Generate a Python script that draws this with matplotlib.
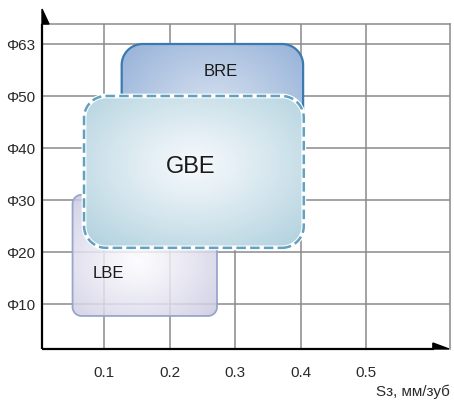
import numpy as np
import matplotlib
matplotlib.use("Agg")
import matplotlib.pyplot as plt
from matplotlib.patches import PathPatch, Polygon
from matplotlib.path import Path
from matplotlib.colors import to_rgb

plt.rcParams['font.family'] = ['Liberation Sans', 'DejaVu Sans']

# ---- data ----
feed_ticks = [0.1, 0.2, 0.3, 0.4, 0.5]
feed_labels = ["0.1", "0.2", "0.3", "0.4", "0.5"]
diam_ticks = [10, 20, 30, 40, 50, 63]
diam_labels = ["Φ10", "Φ20", "Φ30", "Φ40", "Φ50", "Φ63"]

series = ["BRE", "LBE", "GBE"]
feed_min = [0.127, 0.052, 0.0695]
feed_max = [0.404, 0.2725, 0.405]
diam_min = [30, 7.7, 20.8]
diam_max = [63, 31, 50]

# diameter -> position on the (non-linear) diameter axis
diam_scale = [0, 10, 20, 30, 40, 50, 63]
pos_scale = [0, 1, 2, 3, 4, 5, 6]
def ypos(d):
    return np.interp(d, diam_scale, pos_scale)

# ---- figure ----
fig = plt.figure(figsize=(4.54, 4.0), dpi=100)
ax = fig.add_axes([42/454, 51/400, 408/454, 325/400])
xlim = (0.1 - 62/655, 0.1 + 346/655)
ylim = (1 - 45/52, 6 + 20/52)

px_x = 655.0   # pixels per x unit
px_y = 52.0    # pixels per y unit

def rounded_rect(x0, y0, x1, y1, rpx):
    rx, ry = rpx / px_x, rpx / px_y
    verts = []
    corners = [(x1 - rx, y0 + ry, -90, 0), (x1 - rx, y1 - ry, 0, 90),
               (x0 + rx, y1 - ry, 90, 180), (x0 + rx, y0 + ry, 180, 270)]
    for cx, cy, a0, a1 in corners:
        t = np.radians(np.linspace(a0, a1, 24))
        verts += list(zip(cx + rx * np.cos(t), cy + ry * np.sin(t)))
    verts.append(verts[0])
    codes = [Path.MOVETO] + [Path.LINETO] * (len(verts) - 2) + [Path.CLOSEPOLY]
    return Path(verts, codes)

grid_c = "#8a8a8a"
for d in diam_ticks:
    ax.axhline(ypos(d), color=grid_c, lw=1.1, zorder=0.5)
for f in feed_ticks:
    ax.axvline(f, color=grid_c, lw=1.1, zorder=0.5)

for s in ("top", "right"):
    ax.spines[s].set_color(grid_c)
    ax.spines[s].set_linewidth(1.1)
for s in ("left", "bottom"):
    ax.spines[s].set_visible(False)

styles = {
    "BRE": dict(edge="#3b79b2", center="#d6e0f0", outer="#90aed6", lw=1.6, ls="-",
                rad=21, alpha=1.0, z=1, fs=12, gc=(0.5, 0.55)),
    "LBE": dict(edge="#97a6cc", center="#fdfdff", outer="#c8c6df", lw=1.3, ls="-",
                rad=9, alpha=0.85, z=2, fs=12, gc=(0.45, 0.45)),
    "GBE": dict(edge="#62a1bf", center="#f6f9fc", outer="#b0d1de", lw=1.8, ls=(0, (3.8, 1.7)),
                rad=22, alpha=1.0, z=3, fs=17, gc=(0.5, 0.55)),
}

for name, x0, x1, d0, d1 in zip(series, feed_min, feed_max, diam_min, diam_max):
    st = styles[name]
    y0, y1 = ypos(d0), ypos(d1)
    path = rounded_rect(x0, y0, x1, y1, st["rad"])
    clip = PathPatch(path, facecolor="none", edgecolor="none")
    ax.add_patch(clip)
    # radial gradient
    n = 200
    gx, gy = np.meshgrid(np.linspace(0, 1, n), np.linspace(0, 1, n))
    cx, cy = st["gc"]
    rr = np.sqrt(((gx - cx) / 0.72) ** 2 + ((gy - cy) / 0.72) ** 2)
    rr = np.clip(rr, 0, 1) ** 1.1
    c0 = np.array(to_rgb(st["center"]))
    c1 = np.array(to_rgb(st["outer"]))
    img = c0[None, None, :] + (c1 - c0)[None, None, :] * rr[:, :, None]
    im = ax.imshow(img, extent=(x0, x1, y0, y1), origin="lower", aspect="auto",
                   zorder=st["z"], alpha=st["alpha"], interpolation="bilinear")
    im.set_clip_path(clip)
    if name == "GBE":
        ax.add_patch(PathPatch(path, facecolor="none", edgecolor="white", lw=3.4,
                               zorder=st["z"] + 0.1))
    ax.add_patch(PathPatch(path, facecolor="none", edgecolor=st["edge"], lw=st["lw"],
                           linestyle=st["ls"], zorder=st["z"] + 0.2))

# labels inside regions
label_pos = {"BRE": (0.1 + 117/655, 1 + 232/52),
             "GBE": (0.1 + 87/655, 1 + 137/52),
             "LBE": (0.1 + 4/655, 1 + 31/52)}
for name in series:
    x, y = label_pos[name]
    ax.text(x, y, name, ha="center", va="center", fontsize=styles[name]["fs"],
            color="#1a1a1a", zorder=10)

ax.set_xlim(*xlim)
ax.set_ylim(*ylim)
ax.set_xticks(feed_ticks)
ax.set_xticklabels(feed_labels)
ax.set_yticks(ypos(np.array(diam_ticks)))
ax.set_yticklabels(diam_labels)
ax.tick_params(length=0, labelsize=11, colors="#2a2a2a")
ax.tick_params(axis="x", pad=12)
ax.tick_params(axis="y", pad=5)

# black axes with arrowheads
ax.plot([0, 0], [0, 1.0], transform=ax.transAxes, color="black", lw=1.6,
        clip_on=False, zorder=20, solid_capstyle="butt")
ax.plot([0, 0.96], [0, 0], transform=ax.transAxes, color="black", lw=1.6,
        clip_on=False, zorder=20, solid_capstyle="butt")
ax.add_patch(Polygon([(0, 1.0), (0, 1.046), (7/408, 1.0)], closed=True,
                     transform=ax.transAxes, color="black", clip_on=False, zorder=20))
ax.add_patch(Polygon([(0.958, 0), (0.958, 6/325), (0.9975, 0)], closed=True,
                     transform=ax.transAxes, color="black", clip_on=False, zorder=20))

fig.text(450/454, 1 - 392/400, "Sз, мм/зуб", ha="right", va="center",
         fontsize=11, color="#2a2a2a")

fig.savefig("out.png", dpi=100)
